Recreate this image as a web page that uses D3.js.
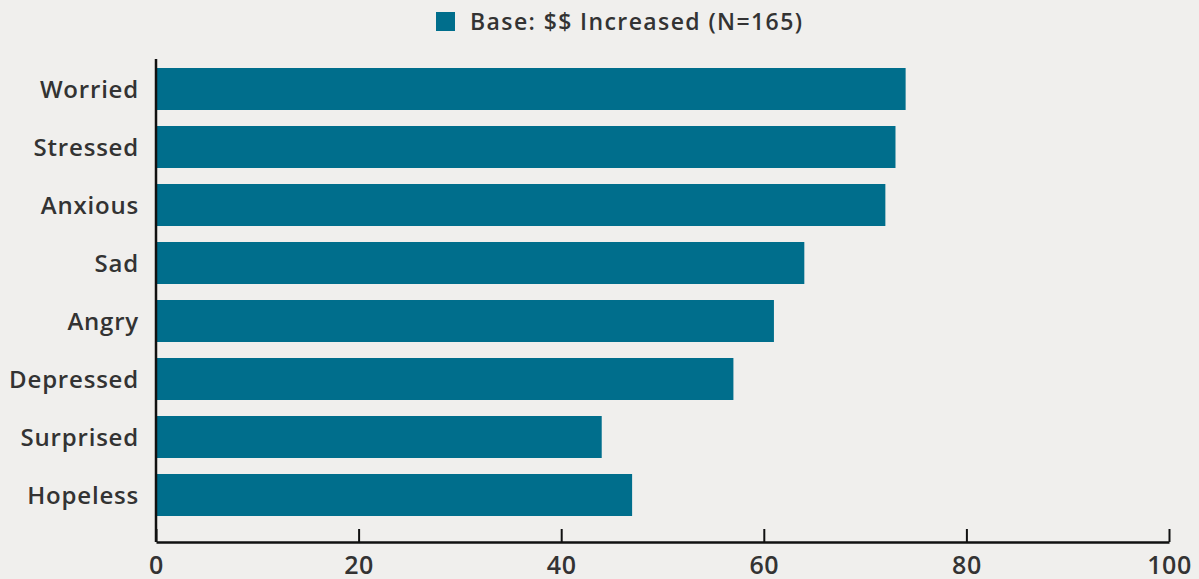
<!DOCTYPE html>
<html>
<head>
<meta charset="utf-8">
<script src="https://cdn.jsdelivr.net/npm/d3@7"></script>
<style>
  body { margin: 0; background: #f0efed; }
  text { font-family: "Open Sans", sans-serif; fill: #333; font-weight: 600; }
</style>
</head>
<body>
<div id="chart"></div>
<script>
var categories = ['Worried', 'Stressed', 'Anxious', 'Sad', 'Angry', 'Depressed', 'Surprised', 'Hopeless'];
var values = [74, 73, 72, 64, 61, 57, 44, 47];
var xTicks = [0, 20, 40, 60, 80, 100];
var seriesName = 'Base: $$ Increased (N=165)';

var width = 1199,
    height = 579,
    barColor = '#006e8c';

var data = categories.map(function(c, i) { return {id: c, value: values[i]}; });

var svg = d3.select('#chart').append('svg')
    .attr('width', width)
    .attr('height', height);

svg.append('rect').attr('width', width).attr('height', height).attr('fill', '#f0efed');

var xScale = d3.scaleLinear().domain([0, 100]).range([156, 1169]);
var yScale = d3.scaleBand()
    .domain(categories)
    .range([60, 524])
    .paddingInner(0.276)
    .paddingOuter(0.138);

var axisY = 542;

// bars
svg.append('g').selectAll('rect')
    .data(data)
    .enter().append('rect')
    .attr('x', xScale(0))
    .attr('y', function(d) { return yScale(d.id); })
    .attr('width', function(d) { return xScale(d.value) - xScale(0); })
    .attr('height', yScale.bandwidth())
    .attr('fill', barColor);

// x axis
var xAxis = d3.axisBottom(xScale).tickValues(xTicks).tickSize(-13).tickSizeOuter(0).tickPadding(0);
var gx = svg.append('g')
    .attr('transform', 'translate(0,' + axisY + ')')
    .call(xAxis);
gx.select('.domain').attr('stroke', '#111').attr('stroke-width', 2.5);
gx.selectAll('.tick line').attr('stroke', '#111').attr('stroke-width', 2);
gx.selectAll('.tick text')
    .attr('y', 14)
    .attr('dy', '0.7em')
    .style('font-size', '25px')
    .style('letter-spacing', '0.6px')
    .attr('fill', '#333');

// y axis line + labels
svg.append('line')
    .attr('x1', xScale(0)).attr('x2', xScale(0))
    .attr('y1', 59).attr('y2', axisY)
    .attr('stroke', '#111').attr('stroke-width', 2.5);

svg.append('g').selectAll('text')
    .data(categories)
    .enter().append('text')
    .attr('x', 139)
    .attr('y', function(d) { return yScale(d) + yScale.bandwidth() / 2; })
    .attr('dy', '0.36em')
    .attr('text-anchor', 'end')
    .style('font-size', '24px')
    .style('letter-spacing', '0.8px')
    .text(function(d) { return d; });

// legend
var legend = svg.append('g');
legend.append('rect')
    .attr('x', 436).attr('y', 12)
    .attr('width', 19).attr('height', 19)
    .attr('fill', barColor);
legend.append('text')
    .attr('x', 470).attr('y', 29.5)
    .style('font-size', '23px')
    .style('letter-spacing', '1.4px')
    .text(seriesName);
</script>
</body>
</html>
